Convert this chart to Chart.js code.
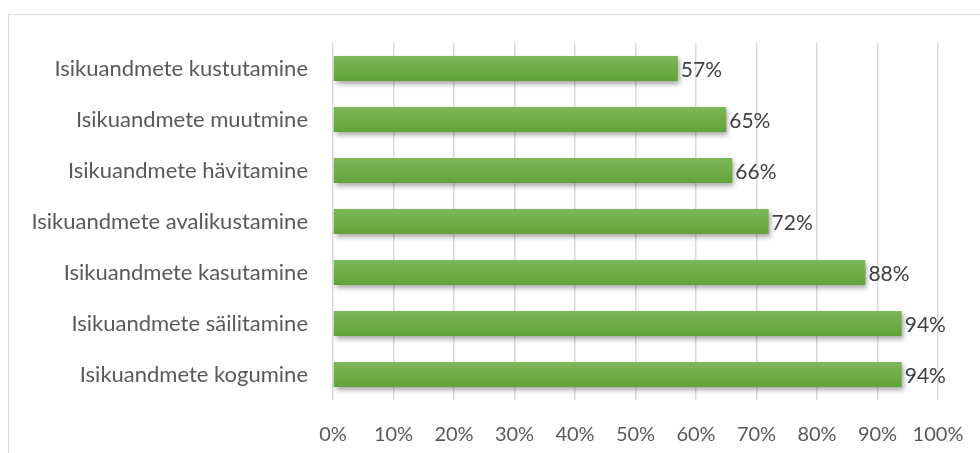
<!DOCTYPE html>
<html>
<head>
<meta charset="utf-8">
<script src="https://cdn.jsdelivr.net/npm/chart.js@4"></script>
<style>
  html, body { margin: 0; padding: 0; background: #fff; }
  #wrap { position: relative; width: 980px; height: 453px; overflow: hidden; }
  #frame { position: absolute; left: 8px; top: 14px; width: 1000px; height: 500px; border: 1px solid #d9d9d9; }
  canvas { position: absolute; left: 0; top: 0; }
</style>
</head>
<body>
<div id="wrap">
  <div id="frame"></div>
  <canvas id="chart" width="980" height="453"></canvas>
</div>
<script>
// andmed, ülevalt alla
const categories = [
    "Isikuandmete kustutamine",
    "Isikuandmete muutmine",
    "Isikuandmete hävitamine",
    "Isikuandmete avalikustamine",
    "Isikuandmete kasutamine",
    "Isikuandmete säilitamine",
    "Isikuandmete kogumine",
];
const shares = [0.57, 0.65, 0.66, 0.72, 0.88, 0.94, 0.94];
const tickLabels = ["0%", "10%", "20%", "30%", "40%", "50%", "60%", "70%", "80%", "90%", "100%"];

const FONT = "Lato, 'Noto Sans', sans-serif";

/* ===================== PLUGINS ===================== */

// vari ribade all
const barShadow = {
    id: "barShadow",
    beforeDatasetsDraw(chart) {
        const ctx = chart.ctx;
        ctx.save();
        ctx.shadowColor = "rgba(0,0,0,0.35)";
        ctx.shadowBlur = 5;
        ctx.shadowOffsetX = 2;
        ctx.shadowOffsetY = 3;
    },
    afterDatasetsDraw(chart) {
        chart.ctx.restore();
    },
};

// protsendid ribade järel
const valueLabels = {
    id: "valueLabels",
    afterDatasetsDraw(chart) {
        const ctx = chart.ctx;
        const meta = chart.getDatasetMeta(0);
        ctx.save();
        ctx.font = "21px " + FONT;
        ctx.fillStyle = "#404040";
        ctx.textAlign = "left";
        ctx.textBaseline = "middle";
        meta.data.forEach((bar, i) => {
            ctx.fillText(Math.round(shares[i] * 100) + "%", bar.x + 3, bar.y + 2);
        });
        ctx.restore();
    },
};

function barGradient(context) {
    const { chart } = context;
    const yScale = chart.scales.y;
    if (!chart.chartArea || !yScale) return "#70ad47";
    const cy = yScale.getPixelForValue(context.dataIndex);
    if (!Number.isFinite(cy)) return "#70ad47";
    const h = 13;
    const g = chart.ctx.createLinearGradient(0, cy - h, 0, cy + h);
    g.addColorStop(0, "#7db85b");
    g.addColorStop(0.5, "#70ad47");
    g.addColorStop(1, "#62a238");
    return g;
}

/* ===================== CHART ===================== */

new Chart(document.getElementById("chart"), {
    type: "bar",
    data: {
        labels: categories,
        datasets: [{
            data: shares,
            backgroundColor: barGradient,
            borderWidth: 0,
            categoryPercentage: 0.98,
            barPercentage: 0.5,
        }],
    },
    plugins: [barShadow, valueLabels],
    options: {
        indexAxis: "y",
        responsive: false,
        animation: false,
        layout: { padding: { top: 43, right: 42, left: 0, bottom: 0 } },
        plugins: {
            legend: { display: false },
            tooltip: { enabled: false },
        },
        scales: {
            x: {
                min: 0,
                max: 1,
                ticks: {
                    stepSize: 0.1,
                    padding: 23,
                    color: "#595959",
                    font: { size: 20, family: FONT },
                    callback: (v, i) => tickLabels[i],
                },
                grid: { color: "#d9d9d9", lineWidth: 1.5, drawTicks: false },
                border: { display: false },
                afterFit: s => {
                    s.height = 53;
                    s.paddingLeft = 0;
                    s.paddingRight = 0;
                },
            },
            y: {
                ticks: {
                    padding: 17,
                    color: "#595959",
                    font: { size: 22, family: FONT },
                },
                grid: { display: false },
                border: { display: false },
                afterFit: s => { s.width = 333; },
            },
        },
    },
});
</script>
</body>
</html>
